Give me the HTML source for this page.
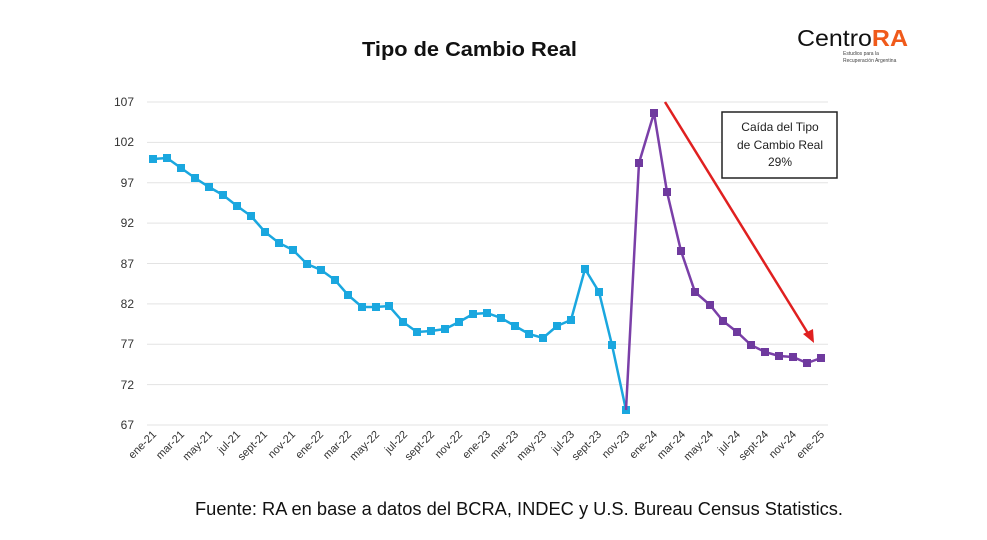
<!DOCTYPE html>
<html><head><meta charset="utf-8"><style>
body{margin:0;background:#fff;width:987px;height:535px;overflow:hidden;font-family:"Liberation Sans",sans-serif}
</style></head><body>
<svg width="987" height="535" viewBox="0 0 987 535" xmlns="http://www.w3.org/2000/svg" font-family="Liberation Sans, sans-serif">
<rect width="987" height="535" fill="#fff"/>
<text x="362" y="56" font-size="20" font-weight="bold" fill="#111" textLength="215" lengthAdjust="spacingAndGlyphs">Tipo de Cambio Real</text>
<text x="797" y="46" font-size="23" fill="#111" textLength="111" lengthAdjust="spacingAndGlyphs">Centro<tspan fill="#f05a1a" font-weight="bold">RA</tspan></text>
<text x="843" y="55" font-size="5" fill="#444">Estudios para la</text>
<text x="843" y="62" font-size="5" fill="#444">Recuperación Argentina</text>
<g stroke="#e3e3e3" stroke-width="1">
<line x1="147" x2="828" y1="102" y2="102"/><line x1="147" x2="828" y1="142.4" y2="142.4"/>
<line x1="147" x2="828" y1="182.8" y2="182.8"/><line x1="147" x2="828" y1="223.1" y2="223.1"/>
<line x1="147" x2="828" y1="263.5" y2="263.5"/><line x1="147" x2="828" y1="303.9" y2="303.9"/>
<line x1="147" x2="828" y1="344.3" y2="344.3"/><line x1="147" x2="828" y1="384.6" y2="384.6"/>
<line x1="147" x2="828" y1="425" y2="425"/>
</g>
<g font-size="12" fill="#333" text-anchor="end">
<text x="134" y="106">107</text><text x="134" y="146">102</text><text x="134" y="187">97</text>
<text x="134" y="227">92</text><text x="134" y="268">87</text><text x="134" y="308">82</text>
<text x="134" y="348">77</text><text x="134" y="389">72</text><text x="134" y="429">67</text>
</g>
<g font-size="11" fill="#333" text-anchor="end">
<text transform="translate(157,435) rotate(-45)">ene-21</text>
<text transform="translate(185,435) rotate(-45)">mar-21</text>
<text transform="translate(213,435) rotate(-45)">may-21</text>
<text transform="translate(241,435) rotate(-45)">jul-21</text>
<text transform="translate(268,435) rotate(-45)">sept-21</text>
<text transform="translate(296,435) rotate(-45)">nov-21</text>
<text transform="translate(324,435) rotate(-45)">ene-22</text>
<text transform="translate(352,435) rotate(-45)">mar-22</text>
<text transform="translate(380,435) rotate(-45)">may-22</text>
<text transform="translate(408,435) rotate(-45)">jul-22</text>
<text transform="translate(435,435) rotate(-45)">sept-22</text>
<text transform="translate(463,435) rotate(-45)">nov-22</text>
<text transform="translate(491,435) rotate(-45)">ene-23</text>
<text transform="translate(519,435) rotate(-45)">mar-23</text>
<text transform="translate(547,435) rotate(-45)">may-23</text>
<text transform="translate(575,435) rotate(-45)">jul-23</text>
<text transform="translate(602,435) rotate(-45)">sept-23</text>
<text transform="translate(630,435) rotate(-45)">nov-23</text>
<text transform="translate(658,435) rotate(-45)">ene-24</text>
<text transform="translate(686,435) rotate(-45)">mar-24</text>
<text transform="translate(714,435) rotate(-45)">may-24</text>
<text transform="translate(741,435) rotate(-45)">jul-24</text>
<text transform="translate(769,435) rotate(-45)">sept-24</text>
<text transform="translate(797,435) rotate(-45)">nov-24</text>
<text transform="translate(825,435) rotate(-45)">ene-25</text>
</g>
<polyline fill="none" stroke="#1aa7df" stroke-width="2.5" points="153,159 167,158 181,168 195,178 209,187 223,195 237,206 251,216 265,232 279,243 293,250 307,264 321,270 335,280 348,295 362,307 376,307 389,306 403,322 417,332 431,331 445,329 459,322 473,314 487,313 501,318 515,326 529,334 543,338 557,326 571,320 585,269 599,292 612,345 626,410"/>
<g fill="#1aa7df">
<rect x="149" y="155" width="8" height="8"/><rect x="163" y="154" width="8" height="8"/><rect x="177" y="164" width="8" height="8"/><rect x="191" y="174" width="8" height="8"/><rect x="205" y="183" width="8" height="8"/><rect x="219" y="191" width="8" height="8"/><rect x="233" y="202" width="8" height="8"/><rect x="247" y="212" width="8" height="8"/><rect x="261" y="228" width="8" height="8"/><rect x="275" y="239" width="8" height="8"/><rect x="289" y="246" width="8" height="8"/><rect x="303" y="260" width="8" height="8"/><rect x="317" y="266" width="8" height="8"/><rect x="331" y="276" width="8" height="8"/><rect x="344" y="291" width="8" height="8"/><rect x="358" y="303" width="8" height="8"/><rect x="372" y="303" width="8" height="8"/><rect x="385" y="302" width="8" height="8"/><rect x="399" y="318" width="8" height="8"/><rect x="413" y="328" width="8" height="8"/><rect x="427" y="327" width="8" height="8"/><rect x="441" y="325" width="8" height="8"/><rect x="455" y="318" width="8" height="8"/><rect x="469" y="310" width="8" height="8"/><rect x="483" y="309" width="8" height="8"/><rect x="497" y="314" width="8" height="8"/><rect x="511" y="322" width="8" height="8"/><rect x="525" y="330" width="8" height="8"/><rect x="539" y="334" width="8" height="8"/><rect x="553" y="322" width="8" height="8"/><rect x="567" y="316" width="8" height="8"/><rect x="581" y="265" width="8" height="8"/><rect x="595" y="288" width="8" height="8"/><rect x="608" y="341" width="8" height="8"/><rect x="622" y="406" width="8" height="8"/>
</g>
<polyline fill="none" stroke="#7a3fa8" stroke-width="2.5" points="626,410 639,163 654,113 667,192 681,251 695,292 710,305 723,321 737,332 751,345 765,352 779,356 793,357 807,363 821,358"/>
<g fill="#6f3a9e">
<rect x="635" y="159" width="8" height="8"/><rect x="650" y="109" width="8" height="8"/><rect x="663" y="188" width="8" height="8"/><rect x="677" y="247" width="8" height="8"/><rect x="691" y="288" width="8" height="8"/><rect x="706" y="301" width="8" height="8"/><rect x="719" y="317" width="8" height="8"/><rect x="733" y="328" width="8" height="8"/><rect x="747" y="341" width="8" height="8"/><rect x="761" y="348" width="8" height="8"/><rect x="775" y="352" width="8" height="8"/><rect x="789" y="353" width="8" height="8"/><rect x="803" y="359" width="8" height="8"/><rect x="817" y="354" width="8" height="8"/>
</g>
<line x1="665" y1="102" x2="809" y2="335" stroke="#e02020" stroke-width="2.5"/>
<polygon points="814,343 803,334 813,329" fill="#e02020"/>
<rect x="722" y="112" width="115" height="66" fill="#fff" stroke="#222" stroke-width="1.5"/>
<g font-size="12" fill="#222" text-anchor="middle">
<text x="780" y="131">Caída del Tipo</text><text x="780" y="149">de Cambio Real</text><text x="780" y="166">29%</text>
</g>
<text x="195" y="515" font-size="18" fill="#111" textLength="648" lengthAdjust="spacingAndGlyphs">Fuente: RA en base a datos del BCRA, INDEC y U.S. Bureau Census Statistics.</text>
</svg>
</body></html>
